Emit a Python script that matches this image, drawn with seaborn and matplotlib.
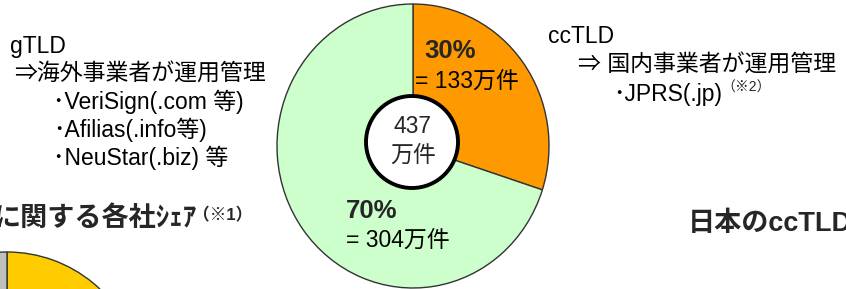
import matplotlib
matplotlib.use("Agg")
import matplotlib.pyplot as plt
import seaborn as sns
from matplotlib.patches import Circle

sns.set_theme(style="white")
plt.rcParams['font.family'] = ['Liberation Sans', 'Noto Sans CJK JP', 'DejaVu Sans']

## data
tld_labels = ["ccTLD", "gTLD"]
tld_share = [30, 70]          # %
tld_count = [133, 304]        # 万件
tld_total = 437               # 万件
tld_colors = ["#FF9900", "#CCFFCC"]

# gTLD registrar shares, only the top of this pie is visible
gtld_share = [88, 12]
gtld_colors = ["#FFCC00", "#C0C0C0"]

gtld_lines = ["gTLD", "⇒海外事業者が運用管理", "･VeriSign(.com 等)",
              "･Afilias(.info等)", "･NeuStar(.biz) 等"]
cctld_lines = ["ccTLD", "⇒ 国内事業者が運用管理", "･JPRS(.jp)"]

W, H = 846, 289
fig = plt.figure(figsize=(W / 100, H / 100), dpi=100)


def px_axes(x0, y0, x1, y1):
    return fig.add_axes([x0 / W, 1 - y1 / H, (x1 - x0) / W, (y1 - y0) / H])


def draw_pie(ax, vals, cols):
    wedges, _ = ax.pie(vals, colors=cols, startangle=90, counterclock=False,
                       wedgeprops=dict(edgecolor="#333333", linewidth=1))
    for w in wedges:
        w.set_clip_on(False)
    ax.set_aspect("auto")
    ax.set_xlim(-1, 1)
    ax.set_ylim(-1, 1)
    ax.axis("off")


## main pie
ax = px_axes(277, 4, 549, 288)
draw_pie(ax, tld_share, tld_colors)

## partial pie bottom-left
ax2 = px_axes(-128, 252, 142, 522)
draw_pie(ax2, gtld_share, gtld_colors)

## overlay in pixel coords for text
ov = fig.add_axes([0, 0, 1, 1])
ov.set_xlim(0, W)
ov.set_ylim(H, 0)
ov.axis("off")
ov.patch.set_alpha(0)

ov.add_patch(Circle((412, 142), 46, facecolor="white", edgecolor="black", lw=2.8))

fs = 16.5
kw = dict(va="baseline", ha="left", fontsize=fs, color="black")

# gTLD block
for (x, y), s in zip([(10, 53), (14, 81), (53, 109), (53, 137), (53, 165)], gtld_lines):
    ov.text(x, y, s, **kw)

# ccTLD block
for (x, y), s in zip([(548, 43), (578, 72), (613, 101)], cctld_lines):
    ov.text(x, y, s, **kw)
ov.text(721, 92, "（※2）", va="baseline", ha="left", fontsize=10)

# titles (cut by figure edge)
ov.text(196, 226, "に関する各社ｼｪｱ", va="baseline", ha="right", fontsize=19.5,
        fontweight="bold")
ov.text(193, 220, "（※1）", va="baseline", ha="left", fontsize=12,
        fontweight="bold")
ov.text(688, 231, "日本のccTLD", va="baseline", ha="left", fontsize=19.5,
        fontweight="bold")

# pie labels
ov.text(424, 58, f"{tld_share[0]}%", va="baseline", ha="left", fontsize=18.5,
        fontweight="bold")
ov.text(415, 88, f"= {tld_count[0]}万件", **kw)
ov.text(346, 218, f"{tld_share[1]}%", va="baseline", ha="left", fontsize=18.5,
        fontweight="bold")
ov.text(346, 247, f"= {tld_count[1]}万件", **kw)
ov.text(413, 133, str(tld_total), va="baseline", ha="center", fontsize=fs)
ov.text(413, 162, "万件", va="baseline", ha="center", fontsize=fs)

fig.savefig("out.png", dpi=100)
